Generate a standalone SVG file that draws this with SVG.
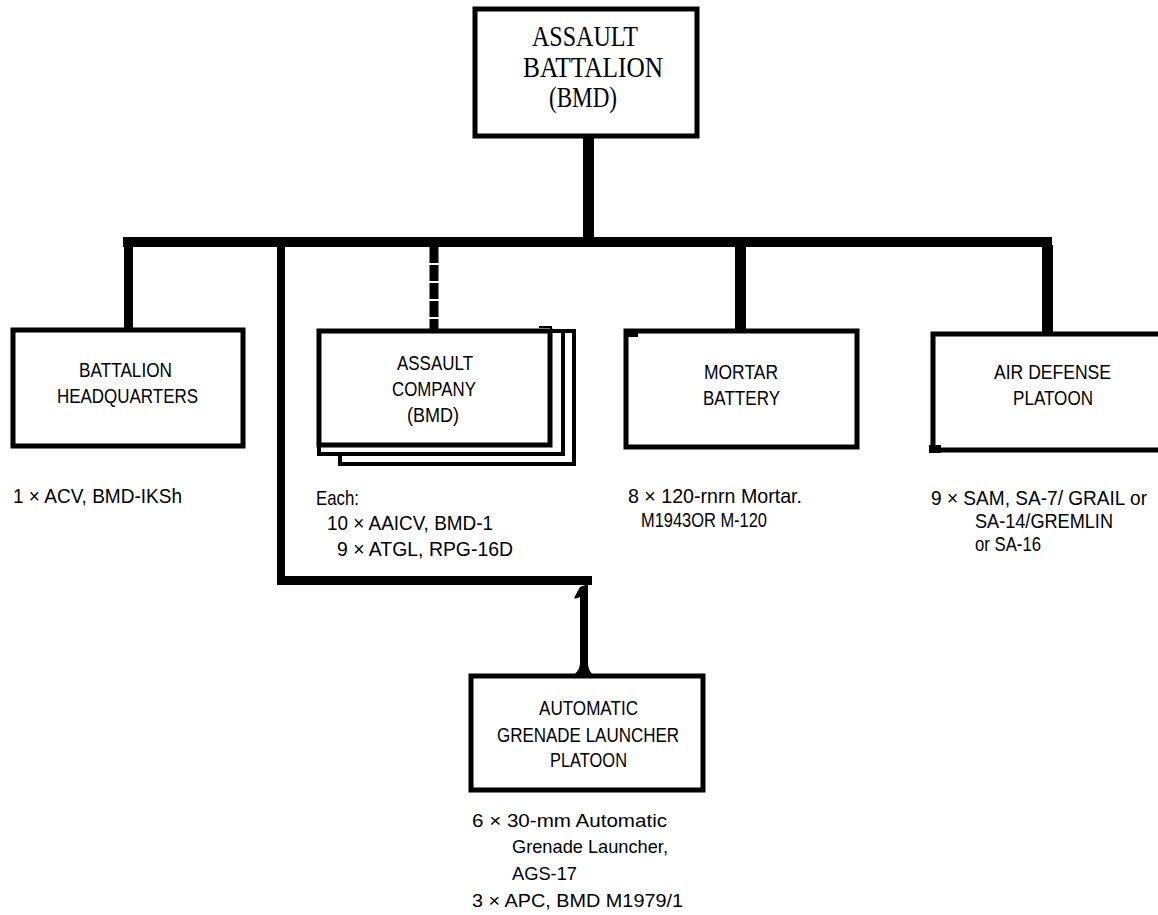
<svg xmlns="http://www.w3.org/2000/svg" width="1158" height="915" viewBox="0 0 1158 915">
<style>
.box{fill:#fff;stroke:#000;stroke-width:5}
.back{fill:#fff;stroke:#000;stroke-width:4}
.bar{fill:#000}
.lbl{font-family:"Liberation Sans",Arial,sans-serif;font-size:20px;fill:#000}
.note{font-family:"Liberation Sans",Arial,sans-serif;font-size:21px;fill:#000}
.sm{font-family:"Liberation Sans",Arial,sans-serif;font-size:19px;fill:#000}
.ttl{font-family:"Liberation Serif","Times New Roman",serif;font-size:29px;fill:#000}
</style>
<rect width="1158" height="915" fill="#fff"/>
<g id="connectors">
  <rect class="bar" x="583" y="136" width="11" height="104"/>
  <rect class="bar" x="123" y="237" width="929" height="10"/>
  <rect class="bar" x="124" y="245" width="9" height="86"/>
  <rect class="bar" x="277" y="245" width="8" height="340"/>
  <rect class="bar" x="277" y="576" width="315" height="9"/>
  <line x1="434" y1="247" x2="434" y2="331" stroke="#000" stroke-width="9" stroke-dasharray="16 2"/>
  <rect class="bar" x="735" y="245" width="11" height="87"/>
  <rect class="bar" x="1042" y="245" width="11" height="90"/>
  <path class="bar" d="M580 587 L588 584 L588 662 C588 670 591 673 595 677 L572 677 C576 673 580 670 580 662 L580 597 C578 598 576 599 574 598 Z"/>
</g>
<g id="node-battalion">
  <rect class="box" x="475" y="9" width="222" height="127"/>
  <text class="ttl" x="532" y="46" textLength="106" lengthAdjust="spacingAndGlyphs">ASSAULT</text>
  <text class="ttl" x="523" y="77" textLength="140" lengthAdjust="spacingAndGlyphs">BATTALION</text>
  <text class="ttl" x="549" y="107" textLength="68" lengthAdjust="spacingAndGlyphs">(BMD)</text>
</g>
<g id="node-hq">
  <rect class="box" x="13" y="330" width="230" height="116"/>
  <text class="lbl" x="79" y="377" textLength="93" lengthAdjust="spacingAndGlyphs">BATTALION</text>
  <text class="lbl" x="57" y="403" textLength="141" lengthAdjust="spacingAndGlyphs">HEADQUARTERS</text>
  <text class="note" x="13" y="503" textLength="169" lengthAdjust="spacingAndGlyphs">1 × ACV,  BMD-IKSh</text>
</g>
<g id="node-company">
  <rect class="back" x="340" y="331" width="234" height="133"/>
  <rect class="back" x="319" y="331" width="244" height="123"/>
  <rect class="box" x="319" y="331" width="231" height="114"/>
  <path d="M539 327 L551 327 L551 334" fill="none" stroke="#000" stroke-width="2"/>
  <text class="lbl" x="397" y="370" textLength="76" lengthAdjust="spacingAndGlyphs">ASSAULT</text>
  <text class="lbl" x="392" y="396" textLength="84" lengthAdjust="spacingAndGlyphs">COMPANY</text>
  <text class="lbl" x="407" y="422" textLength="52" lengthAdjust="spacingAndGlyphs">(BMD)</text>
  <text class="note" x="316" y="505" textLength="43" lengthAdjust="spacingAndGlyphs">Each:</text>
  <text class="note" x="327" y="530" textLength="166" lengthAdjust="spacingAndGlyphs">10 × AAICV,  BMD-1</text>
  <text class="note" x="337" y="556" textLength="176" lengthAdjust="spacingAndGlyphs">9 × ATGL,  RPG-16D</text>
</g>
<g id="node-mortar">
  <rect class="box" x="626" y="331" width="231" height="116"/>
  <rect class="bar" x="626" y="331" width="12" height="6"/>
  <text class="lbl" x="704" y="379" textLength="74" lengthAdjust="spacingAndGlyphs">MORTAR</text>
  <text class="lbl" x="703" y="405" textLength="77" lengthAdjust="spacingAndGlyphs">BATTERY</text>
  <text class="note" x="628" y="503" textLength="174" lengthAdjust="spacingAndGlyphs">8 × 120-rnrn  Mortar.</text>
  <text class="note" x="641" y="527" textLength="126" lengthAdjust="spacingAndGlyphs">M1943OR M-120</text>
</g>
<g id="node-airdefense">
  <rect class="box" x="933" y="334" width="240" height="116"/>
  <rect class="bar" x="929" y="445" width="12" height="8"/>
  <text class="lbl" x="994" y="379" textLength="117" lengthAdjust="spacingAndGlyphs">AIR  DEFENSE</text>
  <text class="lbl" x="1013" y="405" textLength="80" lengthAdjust="spacingAndGlyphs">PLATOON</text>
  <text class="lbl" x="931" y="505" textLength="216" lengthAdjust="spacingAndGlyphs">9 × SAM, SA-7/ GRAIL or</text>
  <text class="note" x="975" y="528" textLength="138" lengthAdjust="spacingAndGlyphs">SA-14/GREMLIN</text>
  <text class="note" x="975" y="551" textLength="66" lengthAdjust="spacingAndGlyphs">or SA-16</text>
</g>
<g id="node-agl">
  <rect class="box" x="471" y="676" width="232" height="114"/>
  <text class="lbl" x="539" y="715" textLength="99" lengthAdjust="spacingAndGlyphs">AUTOMATIC</text>
  <text class="lbl" x="497" y="742" textLength="182" lengthAdjust="spacingAndGlyphs">GRENADE  LAUNCHER</text>
  <text class="lbl" x="550" y="767" textLength="77" lengthAdjust="spacingAndGlyphs">PLATOON</text>
  <text class="sm" x="472" y="827" textLength="195" lengthAdjust="spacingAndGlyphs">6 × 30-mm  Automatic</text>
  <text class="sm" x="512" y="853" textLength="156" lengthAdjust="spacingAndGlyphs">Grenade  Launcher,</text>
  <text class="sm" x="512" y="880" textLength="65" lengthAdjust="spacingAndGlyphs">AGS-17</text>
  <text class="sm" x="472" y="907" textLength="211" lengthAdjust="spacingAndGlyphs">3 × APC,  BMD  M1979/1</text>
</g>
</svg>
